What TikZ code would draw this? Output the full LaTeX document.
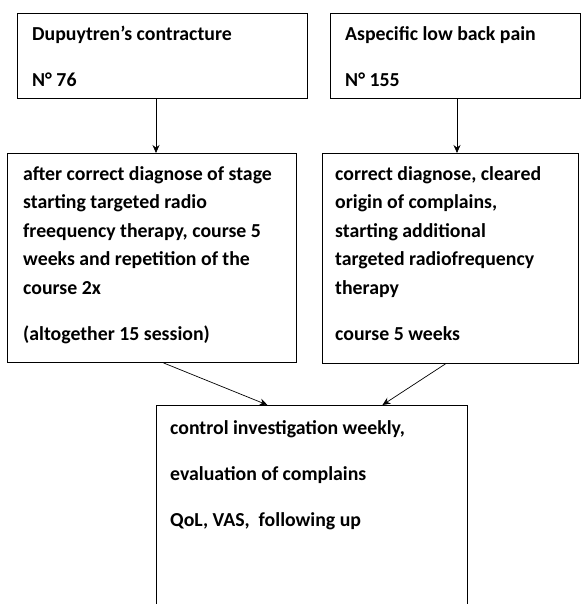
\documentclass[tikz,border=0pt]{standalone}
\usepackage{fontspec}
\setmainfont{Carlito}
\usetikzlibrary{arrows.meta,positioning}

\begin{document}
\begin{tikzpicture}[x=1pt,y=1pt,
    box/.style={draw, line width=0.9pt, anchor=north west, inner sep=0pt},
    txt/.style={anchor=north west, align=left, inner sep=0pt,
      font=\fontsize{19.8}{28.5}\selectfont\bfseries},
    arr/.style={-{Stealth[length=8pt,width=7pt]}, line width=0.7pt}]
        \clip (0,0) rectangle (583,604);
        \useasboundingbox (0,0) rectangle (583,604);
        \fill[white] (0,0) rectangle (583,604);
        % the two groups
        \node[box, minimum width=290pt, minimum height=85pt] (dupbox) at (17,591) {};
        \node[txt] (duptxt) at (32,578) {Dupuytren's contracture\\[17.5pt] N° 76};
        \node[box, minimum width=250pt, minimum height=85pt] (painbox) at (330,591) {};
        \node[txt] (paintxt) at (345,578) {Aspecific low back pain\\[17.5pt] N° 155};
        % therapy
        \node[box, minimum width=289pt, minimum height=209pt] (dupther) at (7,451) {};
        \node[txt] (duptherl) at (23,438) {after correct diagnose of stage\\
            starting targeted radio\\ freequency therapy, course 5\\
            weeks and repetition of the\\ course 2x\\[17.5pt]
            (altogether 15 session)};
        \node[box, minimum width=256pt, minimum height=210pt] (painther) at (322,451) {};
        \node[txt] (paintherl) at (335,438) {correct diagnose, cleared\\
            origin of complains,\\ starting additional\\
            targeted radiofrequency\\ therapy\\[17.5pt] course 5 weeks};
        % follow up, runs off the page
        \node[box, minimum width=311pt, minimum height=230pt] (control) at (156,199) {};
        \node[txt] (controll) at (170,184) {control investigation weekly,\\[17.5pt]
            evaluation of complains\\[17.5pt] QoL, VAS,~ following up};
        % arrows
        \coordinate (leftline) at (156,0);
        \coordinate (rightline) at (457,0);
        \draw[arr] (dupbox.south -| leftline) -- (dupther.north -| leftline);
        \draw[arr] (painbox.south -| rightline) -- (painther.north -| rightline);
        \draw[arr] ([xshift=11.5pt]dupther.south) -- ([xshift=-44.5pt]control.north);
        \draw[arr] ([xshift=-5pt]painther.south) -- ([xshift=70.5pt]control.north);
    \end{tikzpicture}
\end{document}
